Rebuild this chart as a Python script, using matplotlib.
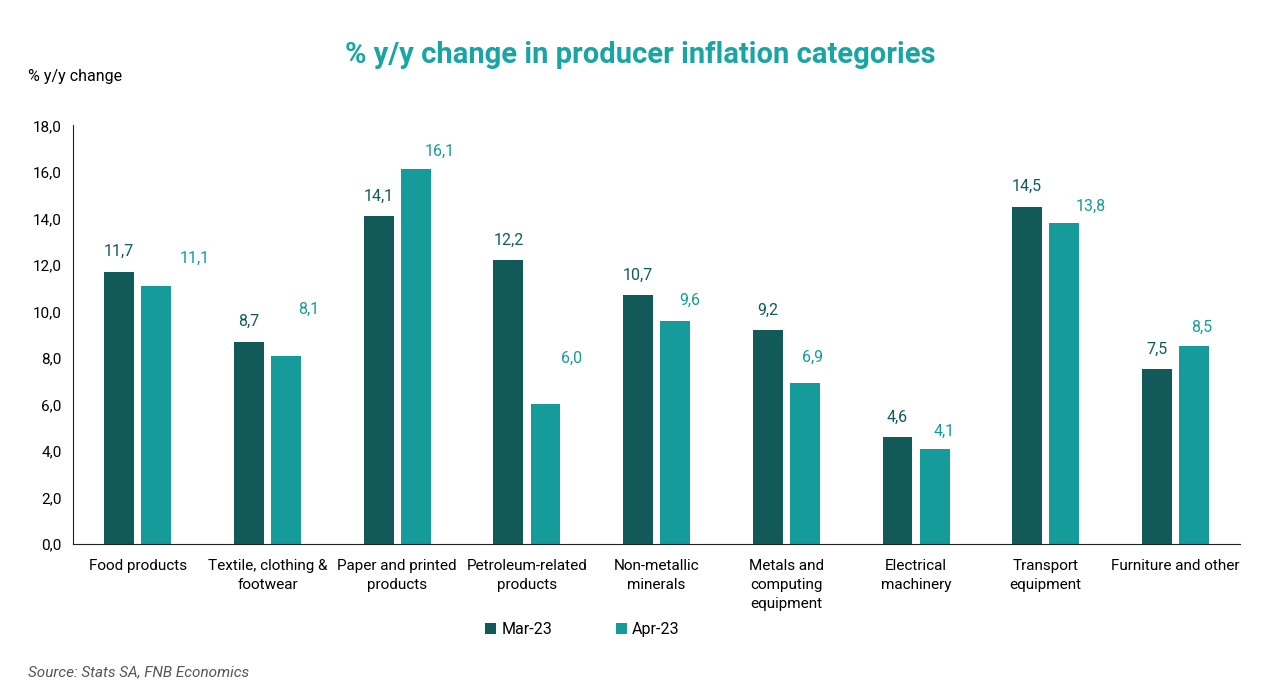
import numpy as np
import matplotlib.pyplot as plt
from matplotlib.ticker import FuncFormatter

plt.rcParams['font.family'] = ['Roboto', 'DejaVu Sans']

categories = ['Food products', 'Textile, clothing &\nfootwear', 'Paper and printed\nproducts',
              'Petroleum-related\nproducts', 'Non-metallic\nminerals', 'Metals and\ncomputing\nequipment',
              'Electrical\nmachinery', 'Transport\nequipment', 'Furniture and other']
mar23 = [11.7, 8.7, 14.1, 12.2, 10.7, 9.2, 4.6, 14.5, 7.5]
apr23 = [11.1, 8.1, 16.1, 6.0, 9.6, 6.9, 4.1, 13.8, 8.5]

# label nudges (pixels) for the Apr-23 labels, as placed in the original chart
apr_dx = [38, 23, 24, 26, 15, 8, 10, 26, 8]
apr_dy = [27, 46, 18, 46, 20, 26, 17, 17, 19]

dark = '#125a5a'
teal = '#169b9b'

fig = plt.figure(figsize=(12.8, 7), dpi=100)
ax = fig.add_axes([0.057, 0.223, 0.912, 0.598])

x = np.arange(len(categories))
w = 0.23
off = 0.143
b1 = ax.bar(x - off, mar23, w, color=dark, label='Mar-23')
b2 = ax.bar(x + off, apr23, w, color=teal, label='Apr-23')

for xi, v in zip(x, mar23):
    ax.annotate(f'{v:.1f}'.replace('.', ','), (xi - off, v), xytext=(0, 20),
                textcoords='offset pixels', ha='center', va='center', fontsize=11.5, color=dark)
for xi, v, dx, dy in zip(x, apr23, apr_dx, apr_dy):
    ax.annotate(f'{v:.1f}'.replace('.', ','), (xi + off, v), xytext=(dx, dy),
                textcoords='offset pixels', ha='center', va='center', fontsize=11.5, color=teal)

ax.set_xlim(-0.5, len(categories) - 0.5)
ax.set_ylim(0, 18)
ax.set_yticks(np.arange(0, 18.1, 2))
ax.yaxis.set_major_formatter(FuncFormatter(lambda v, p: f'{v:.1f}'.replace('.', ',')))
ax.set_xticks(x)
ax.set_xticklabels(categories, fontsize=11, va='top', linespacing=1.45)
ax.tick_params(axis='x', length=0, pad=11)
ax.tick_params(axis='y', length=0, labelsize=11, pad=8)
for s in ['top', 'right']:
    ax.spines[s].set_visible(False)
ax.spines['left'].set_color('#222222')
ax.spines['bottom'].set_color('#222222')

fig.text(0.5, 0.921, '% y/y change in producer inflation categories', ha='center', va='center',
         fontsize=21, fontweight='bold', color='#1aa5a5')
fig.text(0.022, 0.89, '% y/y change', ha='left', va='center', fontsize=11.5)
fig.text(0.022, 0.04, 'Source: Stats SA, FNB Economics', ha='left', va='center',
         fontsize=11, style='italic', color='#555555')

fig.legend(handles=[b1, b2], loc='center', bbox_to_anchor=(0.455, 0.101), ncol=2,
           frameon=False, fontsize=11.5, handlelength=0.7, handleheight=0.7,
           handletextpad=0.3, columnspacing=4)

fig.savefig('out.png', dpi=100)
